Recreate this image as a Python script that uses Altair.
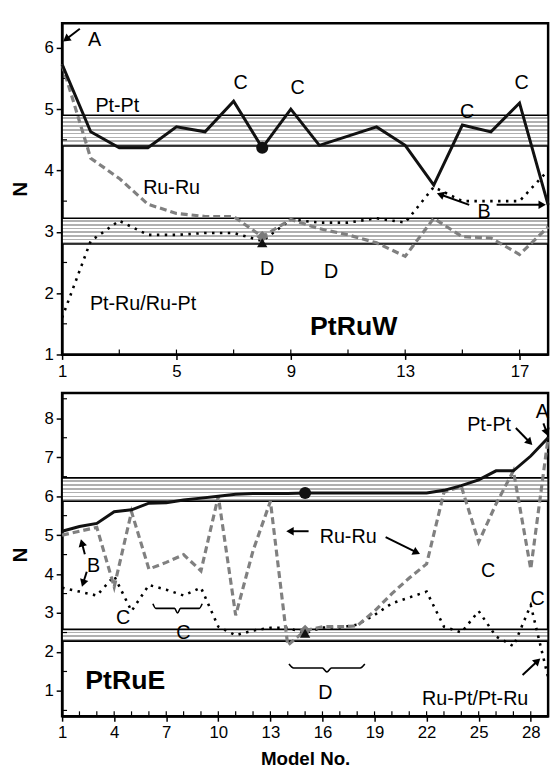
import math
import altair as alt
import pandas as pd

FONT = "Liberation Sans"

# ---------------- PtRuW (top panel) ----------------
w_models = list(range(1, 19))
w_ptpt = [5.73, 4.63, 4.37, 4.37, 4.71, 4.63, 5.13, 4.37, 5.00, 4.41, 4.56, 4.71, 4.41, 3.76, 4.74, 4.63, 5.10, 3.44]
w_ruru = [5.73, 4.20, 3.87, 3.45, 3.30, 3.25, 3.25, 2.92, 3.20, 3.05, 2.95, 2.82, 2.60, 3.22, 2.92, 2.90, 2.63, 3.08]
w_ptru = [1.60, 2.85, 3.18, 2.95, 2.95, 2.98, 2.98, 2.85, 3.20, 3.15, 3.15, 3.22, 3.15, 3.73, 3.50, 3.50, 3.50, 4.00]
w_bands = [(4.40, 4.90, 8), (2.80, 3.22, 7)]
w_mark_model = 8
w_mark_vals = [4.37, 2.92, 2.82]  # circle (Pt-Pt), diamond (Ru-Ru), triangle (Pt-Ru)
w_texts = [(2.14, 6.13, "A"), (2.93, 5.05, "Pt-Pt"), (4.83, 3.71, "Ru-Ru"),
           (3.83, 1.82, "Pt-Ru/Ru-Pt"), (7.24, 5.42, "C"), (9.24, 5.34, "C"),
           (15.17, 4.95, "C"), (17.07, 5.42, "C"), (8.17, 2.39, "D"),
           (10.41, 2.35, "D"), (15.76, 3.32, "B")]
w_bold = [(11.2, 1.44, "PtRuW")]
w_arrows = [(1.62, 6.31, 1.03, 6.10), (15.24, 3.44, 14.1, 3.63), (16.2, 3.44, 17.93, 3.44)]
w_braces = []
w_xlabels = [1, 5, 9, 13, 17]
w_xminor = [3, 7, 11, 15]
w_ylabels = [1, 2, 3, 4, 5, 6]
w_yminor = [1.5, 2.5, 3.5, 4.5, 5.5]

# ---------------- PtRuE (bottom panel) ----------------
e_models = list(range(1, 30))
e_ptpt = [5.10, 5.22, 5.30, 5.60, 5.65, 5.82, 5.83, 5.90, 5.95, 6.00, 6.05, 6.07, 6.07, 6.07, 6.08,
          6.08, 6.08, 6.08, 6.08, 6.08, 6.08, 6.08, 6.15, 6.27, 6.42, 6.65, 6.65, 7.03, 7.50]
e_ruru = [5.00, 5.10, 5.20, 3.67, 5.60, 4.13, 4.30, 4.50, 4.08, 6.00, 2.94, 4.60, 5.87, 2.17, 2.55,
          2.65, 2.65, 2.67, 3.05, 3.50, 3.90, 4.26, 6.10, 6.25, 4.82, 5.80, 6.65, 4.13, 7.50]
e_ptru = [3.65, 3.55, 3.45, 3.95, 3.05, 3.72, 3.60, 3.45, 3.65, 2.65, 2.43, 2.55, 2.62, 2.62, 2.48,
          2.63, 2.63, 2.70, 2.95, 3.25, 3.40, 3.55, 2.65, 2.50, 3.05, 2.40, 2.15, 3.20, 1.35]
e_bands = [(5.87, 6.47, 6), (2.28, 2.58, 3)]
e_mark_model = 15
e_mark_vals = [6.08, 2.55, 2.48]
e_texts = [(25.6, 7.82, "Pt-Pt"), (28.67, 8.15, "A"), (17.48, 4.95, "Ru-Ru"),
           (25.55, 4.08, "C"), (28.4, 3.37, "C"), (4.52, 2.86, "C"), (7.99, 2.48, "C"),
           (2.82, 4.21, "B"), (16.17, 0.95, "D"), (24.8, 0.80, "Ru-Pt/Pt-Ru")]
e_bold = [(4.64, 1.26, "PtRuE")]
e_arrows = [(27.14, 7.75, 28.1, 7.31), (28.73, 7.87, 29.0, 7.54), (15.2, 5.1, 13.9, 5.1),
            (19.64, 4.95, 21.63, 4.51), (2.31, 4.51, 2.08, 4.90), (2.42, 4.06, 2.14, 3.67),
            (27.53, 1.41, 28.56, 1.84)]
e_braces = [(6.23, 9.07, 3.24, 3.00), (14.07, 18.44, 1.69, 1.49)]
e_xlabels = [1, 4, 7, 10, 13, 16, 19, 22, 25, 28]
e_xminor = [m for m in e_models if m not in e_xlabels]
e_ylabels = [1, 2, 3, 4, 5, 6, 7, 8]
e_yminor = [0.5, 1.5, 2.5, 3.5, 4.5, 5.5, 6.5, 7.5, 8.5]


def stripes(n):
    stops = []
    for i in range(n):
        a, b, c = i / n, (i + 0.55) / n, (i + 1) / n
        stops += [alt.GradientStop(offset=a, color="white"),
                  alt.GradientStop(offset=b, color="white"),
                  alt.GradientStop(offset=b, color="#b0b0b0"),
                  alt.GradientStop(offset=c, color="#b0b0b0")]
    return alt.Gradient(gradient="linear", stops=stops, x1=0, x2=0, y1=0, y2=1)


def panel(models, ptpt, ruru, ptru, bands, mark_model, mark_vals, texts, bold, arrows, braces,
          xdom, ydom, xlabels, xminor, ylabels, yminor, W, H, xtitle):
    sx = W / (xdom[1] - xdom[0])
    sy = H / (ydom[1] - ydom[0])
    xs = alt.Scale(domain=xdom, nice=False, zero=False)
    ys = alt.Scale(domain=ydom, nice=False, zero=False)
    xa = alt.Axis(values=xlabels, title=xtitle, grid=False, tickSize=5, tickWidth=1.5,
                  tickColor="black", domainColor="black", domainWidth=2, labelFont=FONT,
                  labelFontSize=17, labelColor="black", labelPadding=4, labelFlush=False,
                  labelOverlap=False, titleFont=FONT, titleFontSize=19, titleFontWeight="bold",
                  titleColor="black", titlePadding=9)
    ya = alt.Axis(values=ylabels, title="N", grid=False, tickSize=6, tickWidth=1.5,
                  tickColor="black", domainColor="black", domainWidth=2, labelFont=FONT,
                  labelFontSize=17, labelColor="black", labelPadding=3, titleFont=FONT,
                  titleFontSize=21, titleFontWeight="bold", titleColor="black", titlePadding=14)
    X = alt.X("x:Q", scale=xs, axis=xa)
    Y = alt.Y("y:Q", scale=ys, axis=ya)

    layers = []
    for lo, hi, n in bands:
        bdf = pd.DataFrame({"y": [lo], "y2": [hi]})
        layers.append(alt.Chart(bdf).mark_rect(fill=stripes(n), stroke="black", strokeWidth=1.6)
                      .encode(x=alt.value(0), x2=alt.value(W), y=Y, y2="y2:Q"))

    xm = pd.DataFrame({"x": xminor + xlabels})
    layers.append(alt.Chart(xm).mark_rule(color="black", strokeWidth=1.2)
                  .encode(x=X, y=alt.value(H), y2=alt.value(H - 5)))
    ymn = pd.DataFrame({"y": yminor})
    layers.append(alt.Chart(ymn).mark_rule(color="black", strokeWidth=1.2)
                  .encode(y=Y, x=alt.value(0), x2=alt.value(5)))

    d1 = pd.DataFrame({"x": models, "y": ptpt})
    d2 = pd.DataFrame({"x": models, "y": ruru})
    d3 = pd.DataFrame({"x": models, "y": ptru})
    layers.append(alt.Chart(d3).mark_line(color="black", strokeWidth=2.6, strokeDash=[2.5, 5.5])
                  .encode(x=X, y=Y))
    layers.append(alt.Chart(d2).mark_line(color="#808080", strokeWidth=3.2, strokeDash=[7, 4])
                  .encode(x=X, y=Y))
    layers.append(alt.Chart(d1).mark_line(color="#111111", strokeWidth=3)
                  .encode(x=X, y=Y))

    shapes = [("circle", "#111111", 150), ("diamond", "#7a7a7a", 140), ("triangle-up", "#111111", 110)]
    for v, (shp, col, sz) in zip(mark_vals, shapes):
        mdf = pd.DataFrame({"x": [mark_model], "y": [v]})
        layers.append(alt.Chart(mdf).mark_point(shape=shp, filled=True, color=col, size=sz, opacity=1)
                      .encode(x=X, y=Y))

    rules, heads = [], []
    for tx, ty, hx, hy in arrows:
        dxp = (hx - tx) * sx
        dyp = -(hy - ty) * sy
        L = math.hypot(dxp, dyp)
        ux, uy = dxp / L, dyp / L
        back = 4.0
        cx = hx - ux * back / sx
        cy = hy + uy * back / sy
        ang = math.degrees(math.atan2(ux, -uy)) % 360
        rules.append({"x": tx, "y": ty, "x2": cx, "y2": cy})
        heads.append({"x": cx, "y": cy, "ang": ang})
    layers.append(alt.Chart(pd.DataFrame(rules)).mark_rule(color="black", strokeWidth=2)
                  .encode(x=X, y=Y, x2="x2:Q", y2="y2:Q"))
    layers.append(alt.Chart(pd.DataFrame(heads)).mark_point(shape="triangle-up", filled=True,
                                                           color="black", size=75, opacity=1)
                  .encode(x=X, y=Y, angle=alt.Angle("ang:Q", scale=None)))

    if braces:
        rows = []
        for i, (x0, x1, ye, yt) in enumerate(braces):
            yb = ye + (yt - ye) * 0.5
            xc = (x0 + x1) / 2
            d = (x1 - x0) * 0.06
            pts = [(x0, ye), (x0 + d, yb), (xc - d, yb), (xc, yt), (xc + d, yb), (x1 - d, yb), (x1, ye)]
            for k, (px, py) in enumerate(pts):
                rows.append({"x": px, "y": py, "id": i, "o": k})
        layers.append(alt.Chart(pd.DataFrame(rows)).mark_line(color="black", strokeWidth=1.6,
                                                             interpolate="monotone")
                      .encode(x=X, y=Y, detail="id:N", order="o:Q"))

    tdf = pd.DataFrame(texts, columns=["x", "y", "t"])
    layers.append(alt.Chart(tdf).mark_text(font=FONT, fontSize=20, color="black",
                                           baseline="middle", align="center")
                  .encode(x=X, y=Y, text="t:N"))
    bdf = pd.DataFrame(bold, columns=["x", "y", "t"])
    layers.append(alt.Chart(bdf).mark_text(font=FONT, fontSize=27, fontWeight="bold", color="black",
                                           baseline="middle", align="center")
                  .encode(x=X, y=Y, text="t:N"))

    return alt.layer(*layers).properties(width=W, height=H)


top = panel(w_models, w_ptpt, w_ruru, w_ptru, w_bands, w_mark_model, w_mark_vals, w_texts, w_bold,
            w_arrows, w_braces, [1, 18], [1, 6.4], w_xlabels, w_xminor, w_ylabels, w_yminor,
            493, 336, None)
bottom = panel(e_models, e_ptpt, e_ruru, e_ptru, e_bands, e_mark_model, e_mark_vals, e_texts, e_bold,
               e_arrows, e_braces, [1, 29], [0.35, 8.65], e_xlabels, e_xminor, e_ylabels, e_yminor,
               493, 328, "Model No.")

chart = (alt.vconcat(top, bottom, spacing=10)
         .properties(padding={"left": 8, "top": 16, "right": 0, "bottom": 0}, background="white")
         .configure_view(stroke="black", strokeWidth=2.5))

chart.save("out.html", embed_options={"renderer": "svg", "actions": False})
